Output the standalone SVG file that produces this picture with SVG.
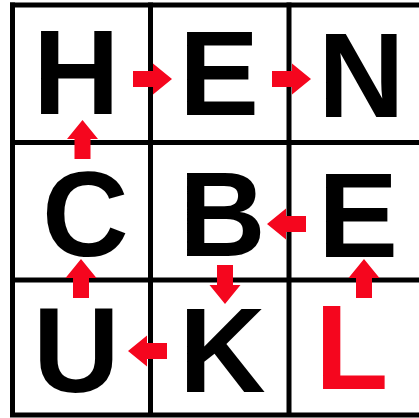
<svg xmlns="http://www.w3.org/2000/svg" xmlns:xlink="http://www.w3.org/1999/xlink" width="419" height="418" viewBox="0 0 419 418">
<style>
.grid{stroke:#000;stroke-width:5;fill:none}
.ltr{font-family:"Liberation Sans",Arial,sans-serif;font-weight:bold;font-size:120px;fill:#000}
.red{fill:#f5061e}
</style>
<defs>
<polygon id="arr" points="0,-8 20,-8 20,-15.5 39,0 20,15.5 20,8 0,8"/>
</defs>
<rect width="419" height="418" fill="#fff"/>
<g id="grid">
<line class="grid" x1="12.5" y1="2.5" x2="12.5" y2="417"/>
<line class="grid" x1="150.5" y1="2.5" x2="150.5" y2="417"/>
<line class="grid" x1="289" y1="2.5" x2="289" y2="417"/>
<line class="grid" x1="10" y1="5" x2="419" y2="5"/>
<line class="grid" x1="10" y1="142.5" x2="419" y2="142.5"/>
<line class="grid" x1="10" y1="280" x2="419" y2="280"/>
<line class="grid" x1="10" y1="415" x2="419" y2="415"/>
</g>
<g id="n-H"><text class="ltr" x="33" y="114">H</text></g>
<g id="n-E1"><text class="ltr" x="179" y="115">E</text></g>
<g id="n-N"><text class="ltr" x="318" y="117">N</text></g>
<g id="n-C"><text class="ltr" x="42" y="256">C</text></g>
<g id="n-B"><text class="ltr" x="179" y="256">B</text></g>
<g id="n-E2"><text class="ltr" x="318" y="257">E</text></g>
<g id="n-U"><text class="ltr" x="33" y="392">U</text></g>
<g id="n-K"><text class="ltr" x="179" y="392">K</text></g>
<g id="n-L"><text class="ltr red" x="315" y="389">L</text></g>
<g id="connectors" class="red">
<use xlink:href="#arr" transform="translate(133,79)"/>
<use xlink:href="#arr" transform="translate(272,79)"/>
<use xlink:href="#arr" transform="translate(82.5,159) rotate(-90)"/>
<use xlink:href="#arr" transform="translate(81,298) rotate(-90)"/>
<use xlink:href="#arr" transform="translate(306,224) rotate(180)"/>
<use xlink:href="#arr" transform="translate(225,265) rotate(90)"/>
<use xlink:href="#arr" transform="translate(167,351) rotate(180)"/>
<use xlink:href="#arr" transform="translate(364,298) rotate(-90)"/>
</g>
</svg>
